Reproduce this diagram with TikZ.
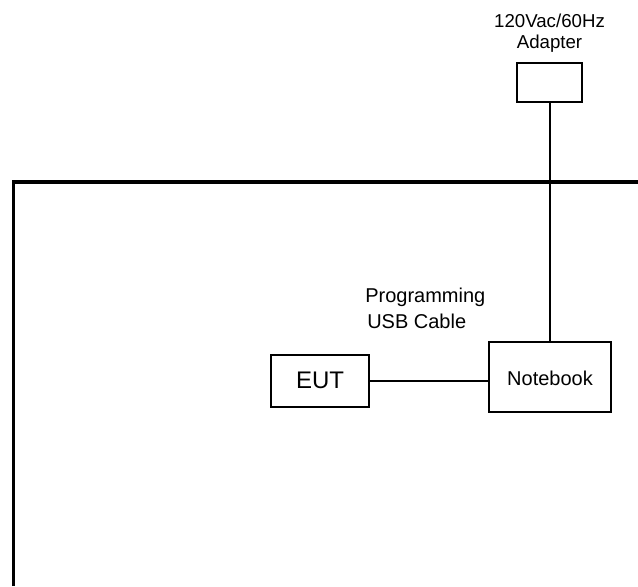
\documentclass[tikz,border=0pt]{standalone}
\usepackage{fontspec}
\setmainfont{Liberation Sans}
\begin{document}
\begin{tikzpicture}[x=0.75pt, y=-0.75pt, every node/.style={inner sep=0pt},
  unit/.style={draw, line width=1.5pt},
  cable/.style={line width=1.5pt}]
\useasboundingbox (0,0) rectangle (638,586);
% Test table outline
\draw[line width=2.3pt] (13.5,586) -- (13.5,182) -- (638,182);
% Power adapter
\node[unit, minimum width=48.75pt, minimum height=29.25pt] (adapter) at (549.5,82.5) {};
\node[anchor=base, font=\fontsize{14}{16}\selectfont] (adaptertop) at (549.5,27) {120Vac/60Hz};
\node[anchor=base, font=\fontsize{14}{16}\selectfont] (adapterbot) at (549.5,48) {Adapter};
% Notebook and EUT
\node[unit, minimum width=91.5pt, minimum height=52.5pt] (notebook) at (550,377) {};
\node[anchor=base, font=\fontsize{15}{17}\selectfont] (notebooktxt) at (550,385) {Notebook};
\node[unit, minimum width=73.5pt, minimum height=39pt] (eut) at (320,381) {};
\node[anchor=base, font=\fontsize{18}{20}\selectfont] (euttxt) at (320,388) {EUT};
% Cables
\draw[cable] (adapter.south) -- (adapter.south |- notebook.north);
\draw[cable] (eut.east) -- (eut.east -| notebook.west);
% Annotations
\node[anchor=base west, font=\fontsize{15}{17}\selectfont] (proglbl) at (365,302) {Programming};
\node[anchor=base west, font=\fontsize{15}{17}\selectfont] (usblbl) at (367,328) {USB Cable};
\end{tikzpicture}
\end{document}
